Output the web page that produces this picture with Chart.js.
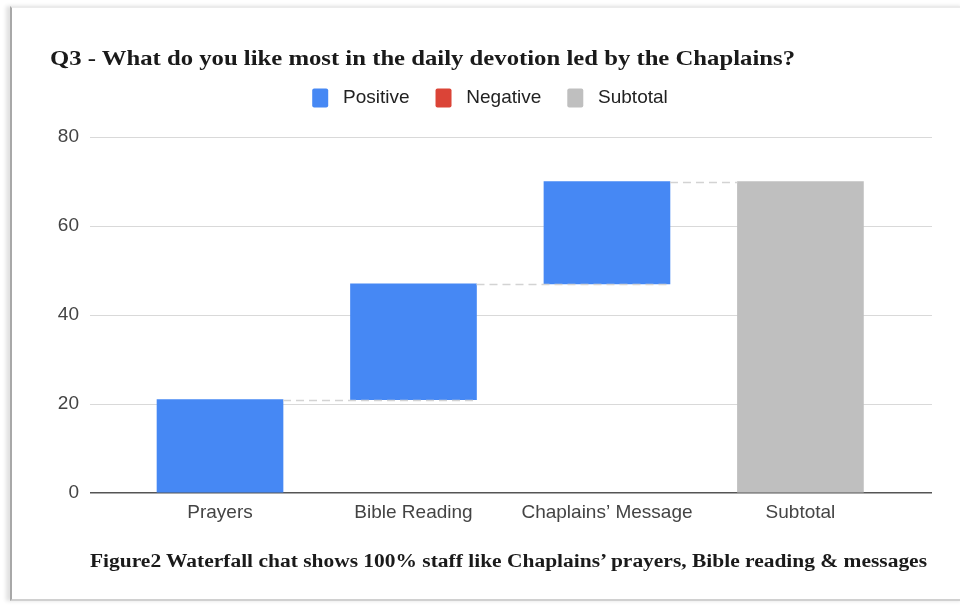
<!DOCTYPE html>
<html>
<head>
<meta charset="utf-8">
<script src="https://cdn.jsdelivr.net/npm/chart.js@4.4.1/dist/chart.umd.min.js"></script>
<style>
  html, body { margin: 0; padding: 0; background: #ffffff; }
  #wrap { position: relative; width: 960px; height: 605px; overflow: hidden; background: #fff; }
  #frame {
    position: absolute; left: 10px; top: 6px; width: 955px; height: 595px;
    border-left: 2px solid #a8a8a8; border-top: 2px solid #ebebeb; border-bottom: 2px solid #d0d0d0;
    box-shadow: -4px 0 4px rgba(0,0,0,0.12);
    box-sizing: border-box;
  }
  #title {
    position: absolute; left: 50px; top: 46px; margin: 0;
    font-family: "Liberation Serif", "DejaVu Serif", serif; font-weight: bold; font-size: 21px;
    color: #1a1a1a; white-space: nowrap; transform-origin: left top;
  }
  #caption {
    position: absolute; left: 90px; top: 551px; margin: 0;
    font-family: "Liberation Serif", "DejaVu Serif", serif; font-weight: bold; font-size: 18px;
    color: #1a1a1a; white-space: nowrap; transform-origin: left top;
  }
  canvas { position: absolute; left: 0; top: 0; }
</style>
</head>
<body>
<div id="wrap">
  <div id="frame"></div>
  <canvas id="c" width="960" height="605"></canvas>
  <div id="title">Q3 - What do you like most in the daily devotion led by the Chaplains?</div>
  <div id="caption">Figure2 Waterfall chat shows 100% staff like Chaplains’ prayers, Bible reading &amp; messages</div>
</div>
<script>
// ---- data ----
const categories = ['Prayers', 'Bible Reading', 'Chaplains’ Message', 'Subtotal'];
const positiveChanges = [21, 26, 23];      // Prayers, Bible Reading, Chaplains' Message
const negativeChanges = [];                // none
const subtotalValue = [70];
const yTicks = [0, 20, 40, 60, 80];
const seriesNames = ['Positive', 'Negative', 'Subtotal'];

// ---- build floating bars ----
let running = 0;
const positiveData = positiveChanges.map((v, i) => {
  const start = running; running += v;
  return { x: i, y: [start, running] };
});
const subtotalData = subtotalValue.map(v => ({ x: categories.length - 1, y: [0, v] }));

// fit HTML text widths
function fitWidth(id, target) {
  const el = document.getElementById(id);
  const w = el.getBoundingClientRect().width;
  el.style.transform = 'scaleX(' + (target / w) + ')';
}
fitWidth('title', 745);
fitWidth('caption', 837);

const connectorPlugin = {
  id: 'connectors',
  afterDatasetsDraw(chart) {
    const meta = chart.getDatasetMeta(0);
    const subMeta = chart.getDatasetMeta(2);
    const bars = meta.data.concat(subMeta.data);
    const ctx = chart.ctx;
    const y = chart.scales.y;
    ctx.save();
    ctx.strokeStyle = '#d3d3d3';
    ctx.lineWidth = 1.5;
    ctx.setLineDash([8, 5]);
    for (let i = 0; i < bars.length - 1; i++) {
      const a = bars[i], b = bars[i + 1];
      const endVal = positiveData[i].y[1];
      const py = Math.round(y.getPixelForValue(endVal)) + 0.5;
      const x1 = a.x + a.width / 2;
      const x2 = (i + 1 === bars.length - 1) ? b.x - b.width / 2 : b.x + b.width / 2;
      ctx.beginPath();
      ctx.moveTo(x1, py);
      ctx.lineTo(x2, py);
      ctx.stroke();
    }
    ctx.restore();
  }
};

const legendSpacePlugin = {
  id: 'legendSpace',
  afterInit(chart) {
    const lg = chart.legend;
    if (lg && !lg._wrapped) {
      const orig = lg.fit;
      lg.fit = function () { orig.call(this); this.height += 19.5; };
      lg._wrapped = true;
    }
  }
};

new Chart(document.getElementById('c'), {
  type: 'bar',
  data: {
    datasets: [
      { label: seriesNames[0], data: positiveData, backgroundColor: '#4688F4', grouped: false, barThickness: 126 },
      { label: seriesNames[1], data: negativeChanges, backgroundColor: '#DB4437', grouped: false, barThickness: 126 },
      { label: seriesNames[2], data: subtotalData, backgroundColor: '#BFBFBF', grouped: false, barThickness: 126 }
    ]
  },
  options: {
    responsive: false,
    animation: false,
    layout: { padding: { left: 48, right: 28, top: 62.5, bottom: 72 } },
    plugins: {
      legend: {
        position: 'top',
        labels: {
          boxWidth: 16, boxHeight: 19, padding: 26, color: '#222',
          useBorderRadius: true, borderRadius: 2,
          font: { family: 'Liberation Sans, Arial, sans-serif', size: 19 },
          generateLabels(chart) {
            const items = Chart.defaults.plugins.legend.labels.generateLabels(chart);
            items.forEach(it => { it.text = ' ' + it.text; });
            return items;
          }
        }
      },
      tooltip: { enabled: false },
      title: { display: false }
    },
    scales: {
      x: {
        type: 'linear',
        offset: false,
        min: -0.672, max: 3.68,
        grid: { display: false, drawTicks: false },
        border: { display: false },
        afterBuildTicks(scale) { scale.ticks = categories.map((c, i) => ({ value: i })); },
        afterFit(scale) { scale.height = 40; },
        ticks: {
          autoSkip: false, maxRotation: 0, padding: 8, color: '#444',
          font: { family: 'Liberation Sans, Arial, sans-serif', size: 19 },
          callback: (v) => categories[v]
        }
      },
      y: {
        min: 0, max: 80,
        afterBuildTicks(scale) { scale.ticks = yTicks.map(v => ({ value: v })); },
        afterFit(scale) { scale.width = 42; },
        grid: {
          drawTicks: false,
          color: (ctx) => ctx.tick && ctx.tick.value === 0 ? '#555555' : '#d9d9d9',
          lineWidth: (ctx) => ctx.tick && ctx.tick.value === 0 ? 1.5 : 1
        },
        border: { display: false },
        ticks: {
          padding: 11, color: '#444',
          font: { family: 'Liberation Sans, Arial, sans-serif', size: 19 }
        }
      }
    }
  },
  plugins: [connectorPlugin, legendSpacePlugin]
});
</script>
</body>
</html>
